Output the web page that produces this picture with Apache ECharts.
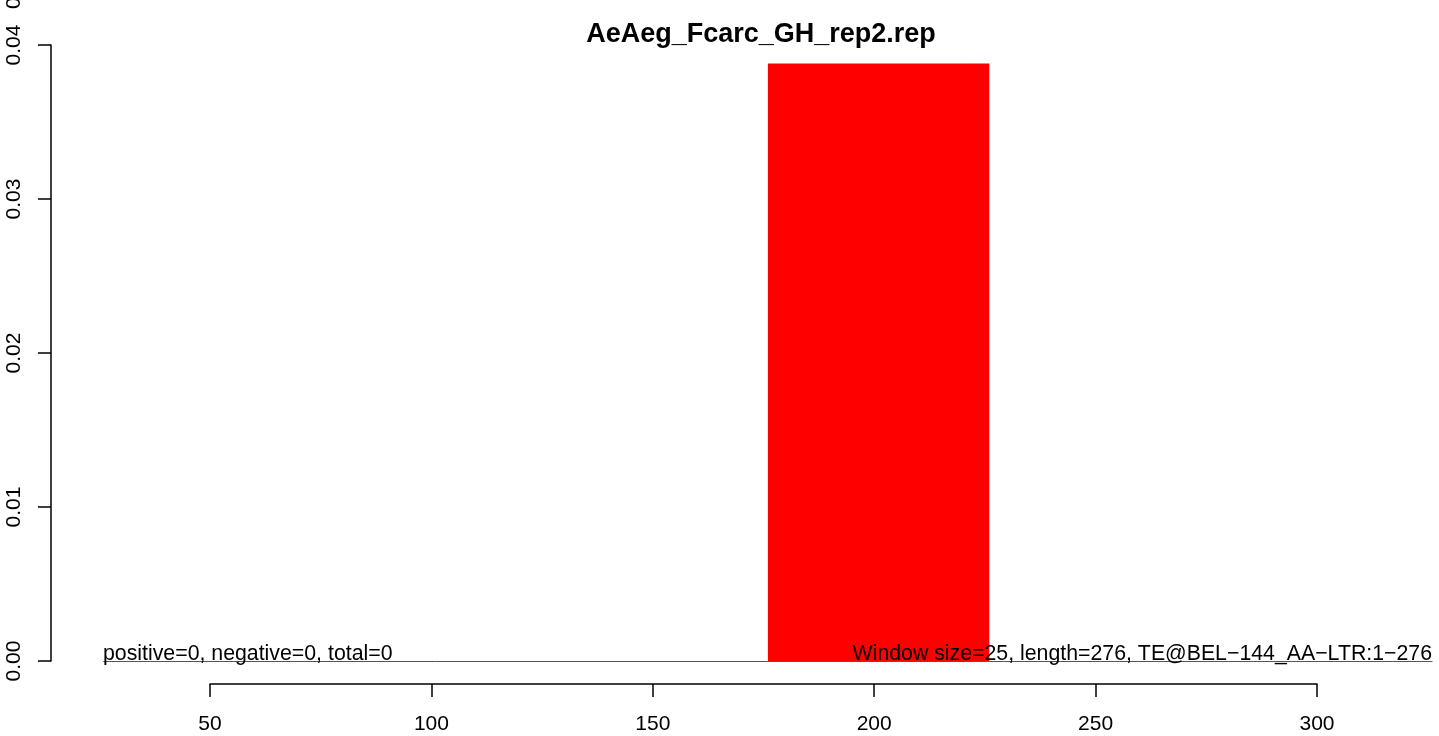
<!DOCTYPE html>
<html><head><meta charset="utf-8">
<script src="https://cdn.jsdelivr.net/npm/echarts@6/dist/echarts.min.js"></script>
<style>html,body{margin:0;padding:0;background:#fff}#c{width:1439px;height:736px}</style>
</head><body><div id="c"></div>
<script>
const title = 'AeAeg_Fcarc_GH_rep2.rep';
const xTicks = [50, 100, 150, 200, 250, 300];
const yTicks = [0.00, 0.01, 0.02, 0.03, 0.04];
// bar: [start, end, height]
const barStart = [176];
const barEnd = [226];
const barHeight = [0.0388];
const leftNote = 'positive=0, negative=0, total=0';
const rightNote = 'Window size=25, length=276, TE@BEL\u2212144_AA\u2212LTR:1\u2212276';

const font = 'Liberation Sans, Arial, Helvetica, sans-serif';
const chart = echarts.init(document.getElementById('c'));
const barData = barStart.map((s, i) => [s, barEnd[i], barHeight[i]]);
chart.setOption({
  animation: false,
  title: {text: title, left: 761, top: 16, textAlign: 'center',
    textStyle: {fontFamily: font, fontWeight: 'bold', fontSize: 27, color: '#000'}},
  grid: [
    {left: 103.7, right: 6.9, top: 45, bottom: 75},
    {left: 210, right: 122, top: 45, bottom: 75}
  ],
  xAxis: [
    {type: 'value', gridIndex: 0, min: 26, max: 326, position: 'bottom',
      axisLine: {show: true, onZero: false, lineStyle: {color: '#555', width: 1}},
      axisTick: {show: false}, axisLabel: {show: false}, splitLine: {show: false}},
    {type: 'value', gridIndex: 1, min: xTicks[0], max: xTicks[xTicks.length - 1], interval: 50,
      position: 'bottom', offset: 23,
      axisLine: {show: true, onZero: false, lineStyle: {color: '#000', width: 1.5}},
      axisTick: {show: true, inside: false, length: 13, lineStyle: {color: '#000', width: 1.5}},
      axisLabel: {show: true, margin: 30, color: '#000', fontSize: 21, fontFamily: font},
      splitLine: {show: false}}
  ],
  yAxis: [
    {type: 'value', gridIndex: 0, min: yTicks[0], max: yTicks[yTicks.length - 1], interval: 0.01,
      position: 'left', offset: 52.7,
      axisLine: {show: true, onZero: false, lineStyle: {color: '#000', width: 1.5}},
      axisTick: {show: true, length: 13, lineStyle: {color: '#000', width: 1.5}},
      axisLabel: {show: true, rotate: 90, margin: 26, color: '#000', fontSize: 21, fontFamily: font,
        formatter: v => v.toFixed(2)},
      splitLine: {show: false}},
    {type: 'value', gridIndex: 1, min: 0, max: 0.04, show: false, splitLine: {show: false}}
  ],
  series: [
    {type: 'custom', xAxisIndex: 0, yAxisIndex: 0, data: barData, z: 1,
      renderItem: function (params, api) {
        const p0 = api.coord([api.value(0), 0]);
        const p1 = api.coord([api.value(1), api.value(2)]);
        return {type: 'rect', shape: {x: p0[0], y: p1[1], width: p1[0] - p0[0], height: p0[1] - p1[1]},
          style: {fill: '#ff0000'}};
      }},
    {type: 'line', xAxisIndex: 1, yAxisIndex: 1, data: [], silent: true}
  ],
  graphic: [
    {type: 'text', z: 100, x: 103, y: 665, style: {text: leftNote, font: '21.3px ' + font, fill: '#000', verticalAlign: 'bottom'}},
    {type: 'text', z: 100, x: 1432, y: 665, style: {text: rightNote, font: '21.3px ' + font, fill: '#000', align: 'right', verticalAlign: 'bottom'}},
    {type: 'text', z: 100, x: 14.5, y: 9, rotation: Math.PI / 2, style: {text: '0', font: '21px ' + font, fill: '#000', align: 'left', verticalAlign: 'middle'}}
  ]
});
chart.setOption({title: {left: 756}});
</script></body></html>
